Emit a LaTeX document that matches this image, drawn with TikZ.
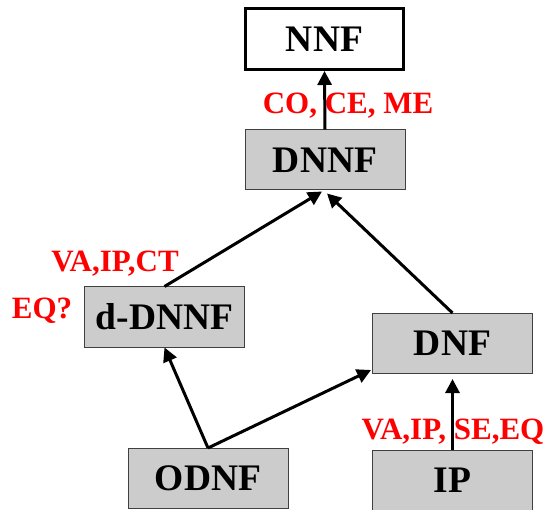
\documentclass[tikz,border=0pt]{standalone}
\usepackage{fontspec}
\setmainfont{Liberation Serif}
\usetikzlibrary{calc,arrows.meta}
\begin{document}
\begin{tikzpicture}[x=1pt,y=-1pt,
  box/.style={draw=black!75, line width=1pt, fill=black!20, minimum width=160pt, minimum height=60pt, inner sep=0pt, font=\fontsize{37.5}{40}\selectfont\bfseries},
  topbox/.style={box, fill=white, draw=black, line width=3pt, minimum width=158pt, minimum height=61pt},
  lab/.style={text=red, font=\fontsize{31}{34}\selectfont\bfseries, inner sep=0pt},
  arr/.style={line width=3pt, -{Triangle[length=14pt,width=14pt]}}]
\useasboundingbox (0,0) rectangle (551,510);
\node[topbox] (nnf) at (324.5,39) {NNF};
\node[box] (dnnf) at (325,160) {DNNF};
\node[box] (ddnnf) at (164.5,317) {d-DNNF};
\node[box] (dnf) at (452.5,343.5) {DNF};
\node[box] (odnf) at (208,478.5) {ODNF};
\node[box] (ip) at (452.5,480) {IP};
\node[lab] (l1) at (348,106) {CO, CE, ME};
\node[lab] (l2) at (115,264) {VA,IP,CT};
\node[lab] (l3) at (42,311) {EQ?};
\node[lab] (l4) at (453,432) {VA,IP, SE,EQ};
\draw[arr] (dnnf.north) -- (nnf.south);
\draw[arr] (ddnnf.north) -- ($(dnnf.south)+(-3,1)$);
\draw[arr] ($(dnf.north)+(0,0)$) -- ($(dnnf.south)+(2,3)$);
\draw[arr] (odnf.north) -- (ddnnf.south);
\draw[arr] (odnf.north) -- ($(dnf.south west)+(-1,-4)$);
\draw[arr] (ip.north) -- ($(dnf.south)+(0,5)$);
\end{tikzpicture}
\end{document}
